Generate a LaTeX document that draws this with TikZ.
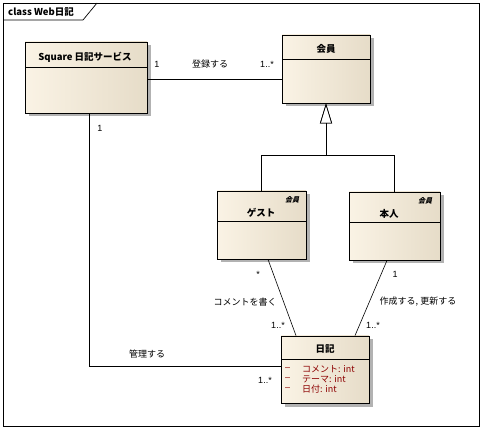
\documentclass[tikz,border=0pt]{standalone}
\usepackage{fontspec}
\setmainfont{Noto Sans CJK JP}
\newfontfamily\jpit[FakeSlant=0.25]{Noto Sans CJK JP}
\newfontfamily\latn{Liberation Sans}
\usetikzlibrary{arrows.meta,shadows}
\definecolor{boxl}{RGB}{250,243,229}
\definecolor{boxr}{RGB}{230,220,200}
\definecolor{attr}{RGB}{140,0,0}
\begin{document}
\begin{tikzpicture}[x=1pt,y=-1pt,
  cls/.style={draw=black, line width=0.8pt,
    drop shadow={shadow xshift=3.5pt, shadow yshift=-3.5pt, fill=black!30, opacity=1},
    inner sep=0pt},
  clsfill/.style={left color=boxl, right color=boxr},
  ttl/.style={font=\bfseries\fontsize{9.5}{10}\selectfont, inner sep=0pt},
  lbl/.style={font=\fontsize{9}{10}\selectfont, inner sep=0pt},
  mult/.style={font=\latn\fontsize{9}{10}\selectfont, inner sep=0pt},
  att/.style={font=\fontsize{9}{10}\selectfont, text=attr, inner sep=0pt, anchor=west},
  attdash/.style={font=\latn\fontsize{9}{10}\selectfont, text=attr, inner sep=0pt, anchor=west},
  ster/.style={font=\jpit\bfseries\fontsize{7}{7}\selectfont, inner sep=0pt},
  conn/.style={line width=0.6pt},
  gen/.style={line width=0.6pt, -{Triangle[open, length=20pt, width=12pt, line width=0.6pt]}}]
\useasboundingbox (0,0) rectangle (482,430);
% frame
\draw[line width=0.7pt] (3,3) rectangle (479,426);
\draw[line width=0.7pt] (3,20) -- (83,20) -- (97,3);
\node[font=\bfseries\fontsize{9.5}{10}\selectfont, anchor=west, inner sep=0pt] (frameLabel) at (8,12) {class Web日記};
% boxes
\node[cls, clsfill, minimum width=122pt, minimum height=71pt] (sq) at (86,77.5) {};
\draw[line width=0.7pt] (25,67) -- (147,67);
\node[ttl] (sqt) at (85,57) {Square 日記サービス};

\node[cls, clsfill, minimum width=88pt, minimum height=68pt] (mem) at (326,69) {};
\draw[line width=0.7pt] (282,59) -- (370,59);
\node[ttl] (memt) at (326,49) {会員};

\node[cls, clsfill, minimum width=89pt, minimum height=68pt] (guest) at (261.5,225) {};
\draw[line width=0.7pt] (217,221) -- (306,221);
\node[ttl] (guestt) at (261,213) {ゲスト};
\node[ster] (guests) at (292,199.5) {会員};

\node[cls, clsfill, minimum width=91pt, minimum height=68pt] (self) at (394.5,226) {};
\draw[line width=0.7pt] (349,222) -- (440,222);
\node[ttl] (selft) at (389,214) {本人};
\node[ster] (selfs) at (425,200.5) {会員};

\node[cls, clsfill, minimum width=88pt, minimum height=67pt] (diary) at (325,369.5) {};
\draw[line width=0.7pt] (281,359) -- (369,359);
\node[ttl] (diaryt) at (325,349) {日記};
\node[attdash] (a1d) at (285,369) {–};
\node[att] (a1) at (302,369) {コメント: int};
\node[attdash] (a2d) at (285,379) {–};
\node[att] (a2) at (302,379) {テーマ: int};
\node[attdash] (a3d) at (285,389) {–};
\node[att] (a3) at (302,389) {日付: int};

% connectors
\coordinate (h1) at (0,79);
\draw[conn] (sq.east |- h1) -- (mem.west |- h1);
\node[mult] (l1) at (157,64) {1};
\node[lbl] (l2) at (210,64) {登録する};
\node[mult] (l3) at (267,64) {1..*};

\coordinate (gy) at (326,155);
\draw[gen] (guest.north) |- (gy) -- (mem.south);
\draw[gen] (self.north) |- (gy) -- (mem.south);

\coordinate (c1) at (89,366);
\draw[conn] (sq.south -| c1) -- (c1) -- (diary.west |- c1);
\node[mult] (l4) at (100,128) {1};
\node[lbl] (l5) at (147,354) {管理する};
\node[mult] (l6) at (265,380) {1..*};

\draw[conn] ([xshift=6.5pt]guest.south) -- ([xshift=-29pt]diary.north);
\node[mult] (l7) at (258,274) {*};
\node[lbl] (l8) at (245,302) {コメントを書く};
\node[mult] (l9) at (278,325) {1..*};

\draw[conn] ([xshift=-7.5pt]self.south) -- ([xshift=30pt]diary.north);
\node[mult] (l10) at (395,274) {1};
\node[lbl] (l11) at (418,302) {作成する, 更新する};
\node[mult] (l12) at (373,325) {1..*};
\end{tikzpicture}
\end{document}
